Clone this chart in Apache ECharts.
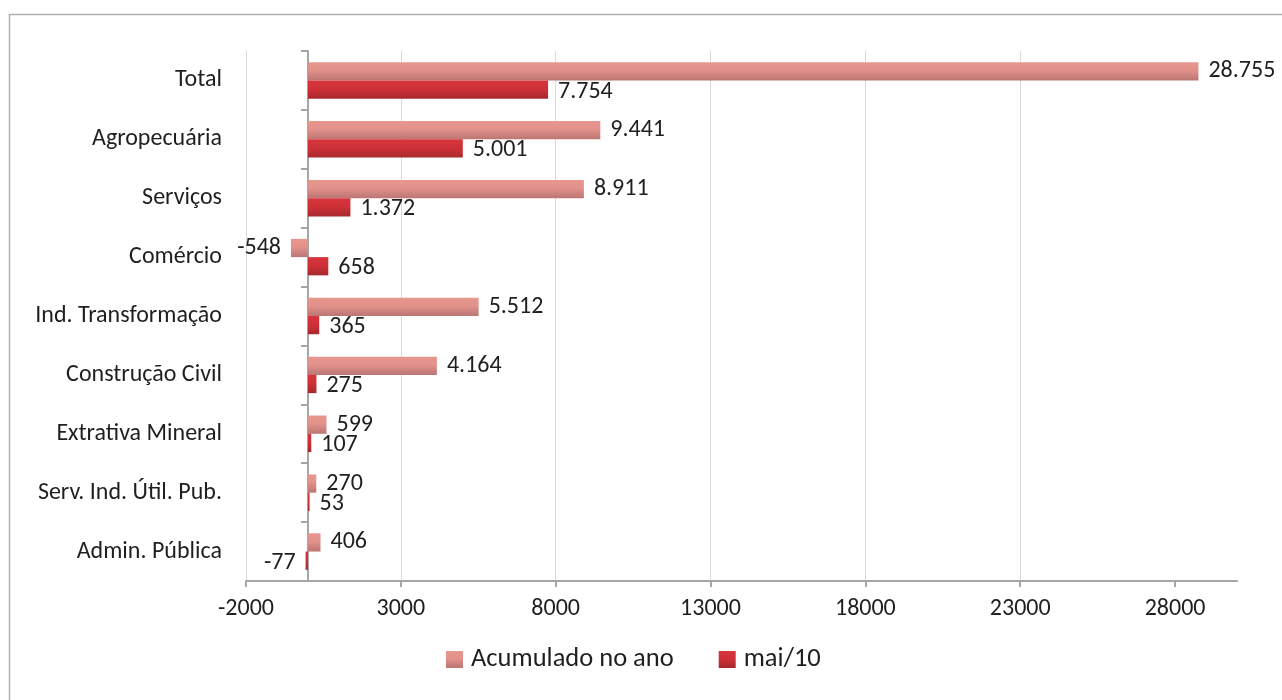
<!DOCTYPE html>
<html><head><meta charset="utf-8">
<script src="https://cdn.jsdelivr.net/npm/echarts@6/dist/echarts.min.js"></script>
<style>html,body{margin:0;padding:0;background:#fff}#c{width:1282px;height:700px}</style>
</head><body><div id="c"></div>
<script>
const categories = ['Total','Agropecuária','Serviços','Comércio','Ind. Transformação','Construção Civil','Extrativa Mineral','Serv. Ind. Útil. Pub.','Admin. Pública'];
const acumulado = [28755, 9441, 8911, -548, 5512, 4164, 599, 270, 406];
const maio = [7754, 5001, 1372, 658, 365, 275, 107, 53, -77];
const seriesNames = ['Acumulado no ano', 'mai/10'];
const tickLabels = [-2000, 3000, 8000, 13000, 18000, 23000, 28000];
const axisMin = -2000, axisMax = 30000, axisInterval = 5000;

const FONT = 'Carlito, Lato, "Open Sans", sans-serif';
const TXT = '#1f1f1f';
function fmt(v){
  const s = String(Math.abs(v)).replace(/\B(?=(\d{3})+(?!\d))/g, '.');
  return (v < 0 ? '-' : '') + s;
}
function grad(stops){
  return new echarts.graphic.LinearGradient(0,0,0,1,stops.map(s => ({offset:s[0], color:s[1]})));
}
function mkData(arr){
  return arr.map(v => ({value: v, label: {position: v < 0 ? 'left' : 'right'}}));
}
const chart = echarts.init(document.getElementById('c'));
chart.setOption({
  animation: false,
  textStyle: {fontFamily: FONT},
  graphic: [{type:'rect', shape:{x:9.5,y:14.5,width:1300,height:720}, style:{fill:'none',stroke:'#b0b0b0',lineWidth:1.5}, silent:true}],
  grid: {left: 246, right: 45, top: 51, bottom: 119, containLabel: false},
  legend: {
    bottom: 22, left: 441, itemWidth: 17, itemHeight: 17, itemGap: 45, icon: 'rect',
    textStyle: {fontSize: 26.5, color: TXT, fontFamily: FONT, padding: [0, 0, 0, 3]},
    data: seriesNames
  },
  xAxis: {
    type: 'value', min: axisMin, max: axisMax, interval: axisInterval,
    axisLine: {show: true, onZero: false, lineStyle: {color: '#a6a6a6', width: 2}},
    axisTick: {show: true, length: 6, lineStyle: {color: '#a6a6a6', width: 2}, customValues: tickLabels},
    axisLabel: {fontSize: 24, color: TXT, margin: 16, fontFamily: FONT, customValues: tickLabels, formatter: v => String(v)},
    splitLine: {show: true, showMaxLine: false, lineStyle: {color: '#d9d9d9', width: 1}}
  },
  yAxis: [{
    type: 'category', data: categories, inverse: true,
    axisLine: {show: false, onZero: false}, axisTick: {show: false},
    axisLabel: {fontSize: 24, color: TXT, margin: 24, fontFamily: FONT}
  },{
    type: 'category', data: categories, inverse: true, position: 'left',
    axisLine: {show: true, onZero: true, lineStyle: {color: '#a6a6a6', width: 2}},
    axisTick: {show: true, length: 7, lineStyle: {color: '#a6a6a6', width: 2}},
    axisLabel: {show: false}
  }],
  series: [{
    name: seriesNames[0], type: 'bar', yAxisIndex: 0, data: mkData(acumulado),
    barGap: '0%', barCategoryGap: '38%',
    itemStyle: {color: grad([[0,'#e8978f'],[0.45,'#e2918b'],[1,'#bb7673']])},
    label: {show: true, fontSize: 24, color: TXT, distance: 10, formatter: p => fmt(p.value), fontFamily: FONT}
  },{
    name: seriesNames[1], type: 'bar', yAxisIndex: 0, data: mkData(maio),
    itemStyle: {color: grad([[0,'#d8353c'],[0.5,'#cd3037'],[1,'#a7282e']])},
    label: {show: true, fontSize: 24, color: TXT, distance: 10, offset: [0, 2], formatter: p => fmt(p.value), fontFamily: FONT}
  }]
});
</script></body></html>
